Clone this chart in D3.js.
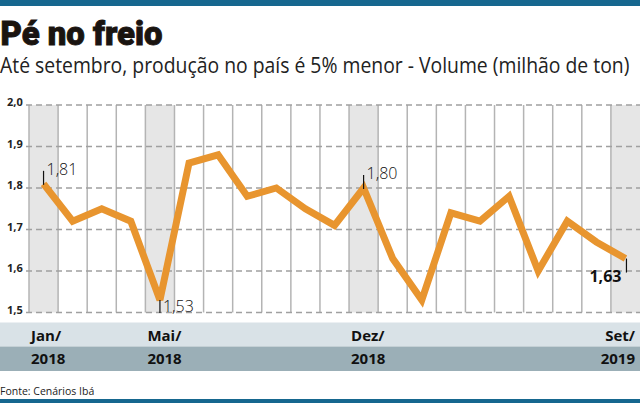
<!DOCTYPE html>
<html>
<head>
<meta charset="utf-8">
<script src="https://cdn.jsdelivr.net/npm/d3@7"></script>
<style>
  body { margin: 0; background: #fff; }
  svg { display: block; }
</style>
</head>
<body>
<div class="svg-container"></div>
<script>
// monthly volume, Jan/2018 .. Set/2019 (milhão de ton)
const months = ['Jan/18', 'Fev/18', 'Mar/18', 'Abr/18', 'Mai/18', 'Jun/18', 'Jul/18', 'Ago/18', 'Set/18', 'Out/18', 'Nov/18', 'Dez/18',
    'Jan/19', 'Fev/19', 'Mar/19', 'Abr/19', 'Mai/19', 'Jun/19', 'Jul/19', 'Ago/19', 'Set/19'];
const values = [1.81, 1.72, 1.75, 1.72, 1.53, 1.86, 1.88, 1.78, 1.80, 1.75, 1.71, 1.80,
    1.63, 1.53, 1.74, 1.72, 1.78, 1.60, 1.72, 1.67, 1.63];
const yTicks = [1.5, 1.6, 1.7, 1.8, 1.9, 2.0];
// shaded months with their axis labels
const highlightMonths = ['Jan/18', 'Mai/18', 'Dez/18', 'Set/19'];
const monthLabels = ['Jan/', 'Mai/', 'Dez/', 'Set/'];
const yearLabels = ['2018', '2018', '2018', '2019'];
// values with a callout
const calloutMonths = ['Jan/18', 'Mai/18', 'Dez/18', 'Set/19'];

const width = 640;
const height = 403;
const plot = { left: 29, right: 640, top: 105, bottom: 312.5 };
const fmt = (v) => d3.format('.2f')(v).replace('.', ',');
const fmt1 = (v) => d3.format('.1f')(v).replace('.', ',');

const svg = d3.select('.svg-container')
    .append('svg')
    .attr('width', width)
    .attr('height', height);

const x = d3.scaleBand().domain(months).range([plot.left, plot.right]);
const y = d3.scaleLinear().domain([1.5, 2.0]).range([plot.bottom, plot.top]);

// top and bottom rules
svg.append('rect').attr('x', 0).attr('y', 0).attr('width', width).attr('height', 6).attr('fill', '#16678f');
svg.append('rect').attr('x', 0).attr('y', 399).attr('width', width).attr('height', 4).attr('fill', '#16678f');

// title
svg.append('text')
    .attr('x', 0.5).attr('y', 45)
    .style('font-family', 'Roboto, sans-serif')
    .style('font-weight', 900)
    .style('font-size', '33px')
    .attr('fill', '#1a1410')
    .attr('stroke', '#1a1410')
    .attr('stroke-width', 0.9)
    .attr('textLength', 162)
    .attr('lengthAdjust', 'spacingAndGlyphs')
    .text('Pé no freio');

// subtitle: shrink to fit the width, then stretch a little vertically
const sub = svg.append('text')
    .attr('x', 0).attr('y', 0)
    .style('font-family', '"Open Sans", sans-serif')
    .style('font-size', '20px')
    .attr('fill', '#222')
    .text('Até setembro, produção no país é 5% menor - Volume (milhão de ton)');
const subLen = sub.node().getComputedTextLength();
const subSize = Math.min(20, 20 * 630 / subLen);
sub.style('font-size', subSize + 'px')
    .attr('transform', `translate(0,73) scale(1,${21 / subSize})`);

// shaded columns
svg.selectAll('.shade')
    .data(highlightMonths)
    .enter()
    .append('rect')
    .attr('class', 'shade')
    .attr('x', (d) => x(d))
    .attr('y', plot.top)
    .attr('width', x.bandwidth())
    .attr('height', plot.bottom - plot.top)
    .attr('fill', '#e6e6e6');

// vertical column lines
svg.selectAll('.vline')
    .data(months)
    .enter()
    .append('line')
    .attr('class', 'vline')
    .attr('x1', (d) => x(d))
    .attr('x2', (d) => x(d))
    .attr('y1', plot.top)
    .attr('y2', plot.bottom)
    .attr('stroke', '#b4b4b4')
    .attr('stroke-width', 1.5);

// dashed horizontal grid + y labels
svg.selectAll('.hline')
    .data(yTicks)
    .enter()
    .append('line')
    .attr('class', 'hline')
    .attr('x1', 26)
    .attr('x2', plot.right)
    .attr('y1', (d) => y(d))
    .attr('y2', (d) => y(d))
    .attr('stroke', '#a0a0a0')
    .attr('stroke-width', 1.5)
    .attr('stroke-dasharray', '6,4');

svg.selectAll('.ylab')
    .data(yTicks)
    .enter()
    .append('text')
    .attr('class', 'ylab')
    .attr('x', 7)
    .attr('y', (d) => y(d) + 1)
    .style('font-family', '"Open Sans", sans-serif')
    .style('font-weight', 700)
    .style('font-size', '11px')
    .attr('fill', '#222')
    .text(fmt1);

// line
const line = d3.line()
    .x((d, i) => x(months[i]) + x.bandwidth() / 2)
    .y((d) => y(d));

svg.append('path')
    .datum(values)
    .attr('d', line)
    .attr('fill', 'none')
    .attr('stroke', '#e8952f')
    .attr('stroke-width', 7)
    .attr('stroke-linejoin', 'miter')
    .attr('stroke-miterlimit', 3);

// callouts
calloutMonths.forEach((m) => {
    const i = months.indexOf(m);
    const v = values[i];
    const cx = x(m) + x.bandwidth() / 2;
    const cy = y(v);
    const last = i === months.length - 1;
    const isMin = !last && v < values[i - 1] && v < values[i + 1];
    const g = svg.append('g');
    if (last) {
        g.append('line').attr('x1', cx + 1).attr('x2', cx + 1).attr('y1', cy).attr('y2', cy + 14)
            .attr('stroke', '#111').attr('stroke-width', 1.2);
        g.append('text').attr('x', cx - 4).attr('y', cy + 23).attr('text-anchor', 'end')
            .style('font-family', '"Open Sans", sans-serif').style('font-weight', 700).style('font-size', '16px')
            .attr('fill', '#111').text(fmt(v));
    } else if (isMin) {
        g.append('line').attr('x1', cx).attr('x2', cx).attr('y1', cy).attr('y2', cy + 13)
            .attr('stroke', '#111').attr('stroke-width', 1.2);
        g.append('text').attr('x', cx + 3).attr('y', cy + 12)
            .style('font-family', '"Open Sans", sans-serif').style('font-weight', 300).style('font-size', '16px')
            .attr('fill', '#111').text(fmt(v));
    } else {
        g.append('line').attr('x1', cx).attr('x2', cx).attr('y1', cy - 13).attr('y2', cy + 1)
            .attr('stroke', '#111').attr('stroke-width', 1.2);
        g.append('text').attr('x', cx + 3).attr('y', cy - 9)
            .style('font-family', '"Open Sans", sans-serif').style('font-weight', 300).style('font-size', '16px')
            .attr('fill', '#111').text(fmt(v));
    }
});

// bottom bands
svg.append('rect').attr('x', 0).attr('y', 322.5).attr('width', width).attr('height', 24).attr('fill', '#d9e2e7');
svg.append('rect').attr('x', 0).attr('y', 346.5).attr('width', width).attr('height', 24.5).attr('fill', '#9bafb7');

highlightMonths.forEach((m, k) => {
    const last = k === highlightMonths.length - 1;
    const tx = last ? plot.right - 5 : x(m) + 2;
    const anchor = last ? 'end' : 'start';
    [monthLabels[k], yearLabels[k]].forEach((t, r) => {
        svg.append('text')
            .attr('x', tx)
            .attr('y', r === 0 ? 341 : 363.5)
            .attr('text-anchor', anchor)
            .style('font-family', '"Open Sans", sans-serif')
            .style('font-weight', 700)
            .style('font-size', '15px')
            .attr('fill', '#111')
            .text(t);
    });
});

// source
svg.append('text')
    .attr('x', 0).attr('y', 395)
    .style('font-family', '"Open Sans", sans-serif')
    .style('font-size', '10.5px')
    .attr('fill', '#222')
    .text('Fonte: Cenários Ibá');
</script>
</body>
</html>
